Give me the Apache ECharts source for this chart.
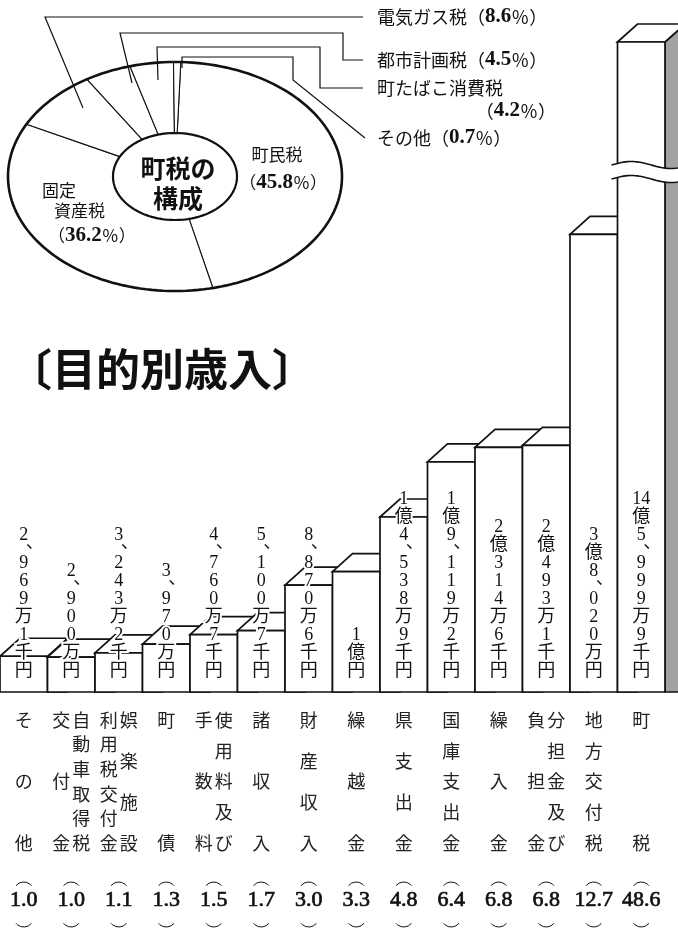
<!DOCTYPE html>
<html lang="ja"><head><meta charset="utf-8">
<script src="https://cdn.jsdelivr.net/npm/echarts@6.0.0/dist/echarts.min.js"></script>
<style>html,body{margin:0;padding:0;background:#fff;overflow:hidden}#chart{width:678px;height:935px}</style>
</head><body><div id="chart"></div>
<script>
// ---------------- data ----------------
const categories = ['その他','自動車取得税交付金','娯楽施設利用税交付金','町債','使用料及び手数料','諸収入','財産収入','繰越金','県支出金','国庫支出金','繰入金','分担金及び負担金','地方交付税','町税'];
const categoryColumns = [['その他'],['交付金','自動車取得税'],['利用税交付金','娯楽施設'],['町債'],['手数料','使用料及び'],['諸収入'],['財産収入'],['繰越金'],['県支出金'],['国庫支出金'],['繰入金'],['負担金','分担金及び'],['地方交付税'],['町税']];
const amountsMan = [2969.1, 2900, 3243.2, 3970, 4760.7, 5100.7, 8870.6, 10000, 14538.9, 19119.2, 20314.6, 20493.1, 38020, 145999.9];
const amountLabels = ['2、969万1千円','2、900万円','3、243万2千円','3、970万円','4、760万7千円','5、100万7千円','8、870万6千円','1億円','1億4、538万9千円','1億9、119万2千円','2億314万6千円','2億493万1千円','3億8、020万円','14億5、999万9千円'];
const percents = [1.0, 1.0, 1.1, 1.3, 1.5, 1.7, 3.0, 3.3, 4.8, 6.4, 6.8, 6.8, 12.7, 48.6];
const taxNames = ['町民税','固定資産税','電気ガス税','都市計画税','町たばこ消費税','その他'];
const taxShares = [45.8, 36.2, 8.6, 4.5, 4.2, 0.7];
const yMax = 54000;

// ---------------- drawing ----------------
const chart = echarts.init(document.getElementById('chart'), null, {renderer:'canvas'});
const n = categories.length;
const DX = 20, DY = 18;
const INK = '#111';
const FONT_MIX = '"Liberation Serif","Noto Sans CJK JP",serif';
const FONT_JP = '"Noto Sans CJK JP",sans-serif';

function txt(x, y, text, extra){
  return {type:'text', x:x, y:y, style:Object.assign({text:text, fill:INK, align:'center', verticalAlign:'middle',
    textAlign:'center', textVerticalAlign:'middle', fontFamily:FONT_JP, fontSize:18}, extra||{})};
}

function renderBar(params, api){
  const i = params.dataIndex;
  const v = api.value(1);
  const shown = Math.min(v, yMax);
  const b = api.coord([i, 0]), t = api.coord([i, shown]);
  const w = api.size([1, 0])[0];
  const cx = b[0], x0 = cx - w/2, x1 = cx + w/2, yb = b[1], yt = t[1];
  const last = i === n - 1;
  const line = {stroke:INK, lineWidth:1.7, lineJoin:'miter'};
  const ch = [];
  ch.push({type:'polygon', shape:{points:[[x1,yt],[x1+DX,yt-DY],[x1+DX,yb],[x1,yb]]},
    style:Object.assign({fill: last ? '#a2a2a2' : '#fff'}, line)});
  ch.push({type:'polygon', shape:{points:[[x0,yt],[x0+DX,yt-DY],[x1+DX,yt-DY],[x1,yt]]},
    style:Object.assign({fill:'#fff'}, line)});
  ch.push({type:'rect', shape:{x:x0, y:yt, width:w, height:yb-yt}, style:Object.assign({fill:'#fff'}, line)});
  if (v > yMax) {
    const yc = api.coord([i, yMax*0.8])[1];
    const xs = x0 - 6, xe = x1 + DX + 6, L = xe - xs;
    const up = [], lo = [];
    for (let x = xs; x <= xe + 0.1; x += 2) {
      const s = 3.5*Math.sin(2*Math.PI*(x - xs)/L);
      up.push([x, yc - 7 - s]); lo.push([x, yc + 7 - s]);
    }
    ch.push({type:'polygon', shape:{points:up.concat(lo.slice().reverse())}, style:{fill:'#fff', stroke:null}});
    ch.push({type:'polyline', shape:{points:up}, style:{stroke:INK, lineWidth:1.6, fill:null}});
    ch.push({type:'polyline', shape:{points:lo}, style:{stroke:INK, lineWidth:1.6, fill:null}});
  }
  // amount label (vertical)
  const toks = amountLabels[i].match(/\d+(?=億)|./g);
  let y = yb - 21;
  const lblStyle = {fontFamily:FONT_MIX, fontSize:18, stroke:'#fff', lineWidth:4};
  for (let k = toks.length - 1; k >= 0; k--) {
    const tk = toks[k];
    if (tk === '、') {
      ch.push(txt(cx + 11, y - 2, '、', lblStyle));
      y -= 10;
    } else {
      ch.push(txt(cx, y, tk, lblStyle));
      y -= 18;
    }
  }
  // category label (vertical columns, justified)
  const cols = categoryColumns[i];
  const top = yb + 28, bot = yb + 151;
  cols.forEach(function(col, ci){
    const colX = cols.length === 1 ? cx : cx + (ci === 0 ? -10 : 10);
    const chars = Array.from(col);
    chars.forEach(function(c, k){
      const yy = chars.length === 1 ? top : top + k*(bot - top)/(chars.length - 1);
      ch.push(txt(colX, yy, c, {fontSize:18, fill:'#222'}));
    });
  });
  // percentage with vertical parentheses
  ch.push(txt(cx, yb + 208, percents[i].toFixed(1), {fontFamily:FONT_MIX, fontSize:22, stroke:INK, lineWidth:0.7}));
  ch.push({type:'arc', shape:{cx:cx, cy:yb + 200, r:10, startAngle:Math.PI*1.22, endAngle:Math.PI*1.78, clockwise:true},
    style:{stroke:INK, lineWidth:1, fill:null}});
  ch.push({type:'arc', shape:{cx:cx, cy:yb + 225, r:10, startAngle:Math.PI*0.22, endAngle:Math.PI*0.78, clockwise:true},
    style:{stroke:INK, lineWidth:1, fill:null}});
  return {type:'group', children:ch};
}

// pie (elliptical ring)
const PC = {cx:175, cy:176.5, a:167, b:114.5, ia:62, ib:43.5};
const pieStart = 2;
const taxTotal = taxShares.reduce(function(s, v){ return s + v; }, 0);
function ellPt(a, b, deg){ const r = deg*Math.PI/180; return [PC.cx + a*Math.sin(r), PC.cy - b*Math.cos(r)]; }
function renderSlice(params, api){
  const i = params.dataIndex;
  let before = 0; for (let k = 0; k < i; k++) before += taxShares[k];
  const s = pieStart + before/taxTotal*360, e = s + api.value(0)/taxTotal*360;
  const steps = Math.max(2, Math.ceil((e - s)/2));
  const pts = [];
  for (let k = 0; k <= steps; k++) pts.push(ellPt(PC.a, PC.b, s + (e - s)*k/steps));
  for (let k = steps; k >= 0; k--) pts.push(ellPt(PC.ia, PC.ib, s + (e - s)*k/steps));
  return {type:'polygon', shape:{points:pts}, style:{fill:'#fff', stroke:INK, lineWidth:1.1}};
}
function ellipsePts(a, b){ const p = []; for (let d = 0; d < 360; d += 2) p.push(ellPt(a, b, d)); return p; }

const numRich = {b:{fontFamily:'"Liberation Serif",serif', fontWeight:'bold', fontSize:21, fill:INK}};
function pct(v){ return '（{b|' + v.toFixed(1) + '}％）'; }
function gtext(x, y, text, extra){
  return {type:'text', x:x, y:y, z:20, style:Object.assign({text:text, fill:INK, fontFamily:FONT_JP, fontSize:18,
    align:'left', verticalAlign:'middle', textAlign:'left', textVerticalAlign:'middle', rich:numRich}, extra||{})};
}
function leader(pts){ return {type:'polyline', z:20, shape:{points:pts}, style:{stroke:INK, lineWidth:1.2, fill:null}}; }

const graphics = [
  {type:'polygon', z:15, shape:{points:ellipsePts(PC.a, PC.b)}, style:{fill:null, stroke:INK, lineWidth:2.6}},
  {type:'polygon', z:15, shape:{points:ellipsePts(PC.ia, PC.ib)}, style:{fill:'#fff', stroke:INK, lineWidth:2.2}},
  {type:'text', z:20, x:178, y:183, style:{text:'町税の\n構成', fill:INK, fontFamily:FONT_JP, fontWeight:'bold', fontSize:25,
    lineHeight:30, align:'center', verticalAlign:'middle', textAlign:'center', textVerticalAlign:'middle'}},
  gtext(277, 155, taxNames[0], {fontSize:17, align:'center', textAlign:'center'}),
  gtext(283, 183, pct(taxShares[0]), {fontSize:17, align:'center', textAlign:'center'}),
  gtext(42, 191, taxNames[1].slice(0, 2), {fontSize:17}),
  gtext(54, 211, taxNames[1].slice(2), {fontSize:17}),
  gtext(48, 236, pct(taxShares[1]), {fontSize:17}),
  leader([[83,108],[45,17],[363,17]]),
  leader([[132,83],[120,33],[343,33],[343,60],[363,60]]),
  leader([[158,80],[157,47],[320,47],[320,88],[363,88]]),
  leader([[182,68],[182,57],[293,57],[293,80],[365,138]]),
  gtext(377, 17, taxNames[2] + pct(taxShares[2])),
  gtext(377, 60, taxNames[3] + pct(taxShares[3])),
  gtext(377, 88, taxNames[4]),
  gtext(556, 111, pct(taxShares[4]), {align:'right', textAlign:'right'}),
  gtext(377, 138, taxNames[5] + pct(taxShares[5])),
  {type:'text', z:20, x:162, y:369, style:{text:'〔目的別歳入〕', fill:INK, fontFamily:FONT_JP, fontWeight:'bold', fontSize:44,
    align:'center', verticalAlign:'middle', textAlign:'center', textVerticalAlign:'middle'}}
];

chart.setOption({
  animation:false,
  backgroundColor:'#fff',
  grid:{left:-12, right:13, top:42, bottom:243, containLabel:false},
  xAxis:{type:'category', data:categories, show:false},
  yAxis:{type:'value', min:0, max:yMax, show:false},
  graphic:graphics,
  series:[
    {type:'custom', coordinateSystem:'none', renderItem:renderSlice, data:taxShares.map(function(v){ return [v]; }), z:5},
    {type:'custom', renderItem:renderBar, clip:false, encode:{x:0, y:1},
      data:amountsMan.map(function(v, i){ return [i, v]; }), z:3}
  ]
});
</script></body></html>
